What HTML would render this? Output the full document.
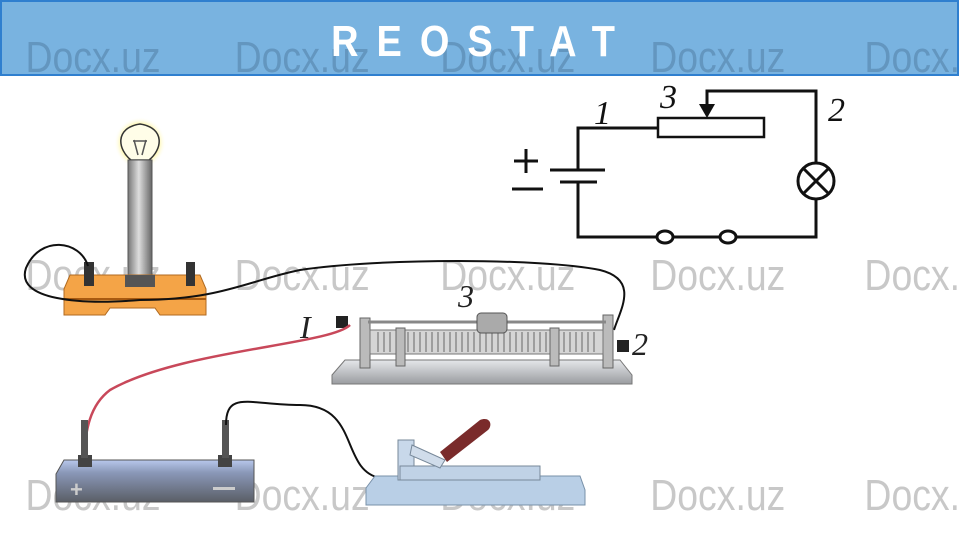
<!DOCTYPE html>
<html><head><meta charset="utf-8"><style>
html,body{margin:0;padding:0;background:#fff;}
body{width:959px;height:553px;overflow:hidden;position:relative;font-family:"Liberation Sans",sans-serif;}
svg{position:absolute;left:0;top:0;}
</style></head><body>
<svg width="959" height="553" viewBox="0 0 959 553" xmlns="http://www.w3.org/2000/svg">
<defs>
<linearGradient id="post" x1="0" x2="1"><stop offset="0" stop-color="#777"/><stop offset=".45" stop-color="#ddd"/><stop offset="1" stop-color="#666"/></linearGradient>
<linearGradient id="bat" x1="0" y1="0" x2="0" y2="1"><stop offset="0" stop-color="#b8c8ec"/><stop offset=".3" stop-color="#8a98b8"/><stop offset="1" stop-color="#5a5e66"/></linearGradient>
<linearGradient id="base" x1="0" y1="0" x2="0" y2="1"><stop offset="0" stop-color="#e5e7ea"/><stop offset="1" stop-color="#9a9ca0"/></linearGradient>
<radialGradient id="glow"><stop offset="0" stop-color="#fffbd0"/><stop offset=".7" stop-color="#fff6a0"/><stop offset="1" stop-color="#fff" stop-opacity="0"/></radialGradient>
</defs>
<rect x="1" y="1" width="957" height="74" fill="#79b3e0" stroke="#2f7fcf" stroke-width="2"/>
<g font-size="44" fill="#5e8fb8" opacity=".8" font-family="Liberation Sans,sans-serif" transform="scale(0.85,1)">
<text x="30" y="72">Docx.uz</text><text x="276" y="72">Docx.uz</text><text x="518" y="72">Docx.uz</text><text x="765" y="72">Docx.uz</text><text x="1017" y="72">Docx.uz</text>
</g>
<g transform="translate(482,56) scale(1,1.15)">
<text x="0" y="0" text-anchor="middle" font-size="38" font-weight="bold" fill="#fff" letter-spacing="18">REOSTAT</text>
</g>

<g stroke="#111" stroke-width="3" fill="none">
<polyline points="658,128 578,128 578,170"/>
<polyline points="578,182 578,237 657,237"/>
<line x1="673" y1="237" x2="720" y2="237"/>
<polyline points="736,237 816,237 816,199"/>
<polyline points="816,163 816,91 707,91 707,108"/>
<line x1="550" y1="170" x2="605" y2="170"/>
<line x1="560" y1="182" x2="597" y2="182"/>
<rect x="658" y="118" width="106" height="19" stroke-width="2.5"/>
<circle cx="816" cy="181" r="18"/>
<line x1="803" y1="168" x2="829" y2="194"/><line x1="829" y1="168" x2="803" y2="194"/>
<ellipse cx="665" cy="237" rx="8" ry="6"/><ellipse cx="728" cy="237" rx="8" ry="6"/>
<line x1="514" y1="161" x2="538" y2="161"/><line x1="526" y1="149" x2="526" y2="173"/>
<line x1="512" y1="189" x2="543" y2="189"/>
</g>
<polygon points="699,104 715,104 707,118" fill="#111"/>
<g font-family="Liberation Serif,serif" font-style="italic" font-size="34" fill="#111">
<text x="594" y="124">1</text><text x="660" y="108">3</text><text x="828" y="121">2</text>
</g>

<g font-size="44" fill="#c8c8c8" font-family="Liberation Sans,sans-serif" transform="scale(0.85,1)">
<text x="30" y="290">Docx.uz</text><text x="276" y="290">Docx.uz</text><text x="518" y="290">Docx.uz</text><text x="765" y="290">Docx.uz</text><text x="1017" y="290">Docx.uz</text>
<text x="30" y="510">Docx.uz</text><text x="276" y="510">Docx.uz</text><text x="518" y="510">Docx.uz</text><text x="765" y="510">Docx.uz</text><text x="1017" y="510">Docx.uz</text>
</g>

<circle cx="140" cy="143" r="26" fill="url(#glow)"/>
<path d="M131,160 C118,150 114,128 140,124 C166,128 162,150 149,160 Z" fill="#fffde8" stroke="#333" stroke-width="1.5"/>
<path d="M134,140 L138,155 M146,140 L142,155 M133,141 L147,141" stroke="#555" stroke-width="1.5" fill="none"/>
<rect x="128" y="160" width="24" height="120" fill="url(#post)" stroke="#555"/>
<path d="M64,289 L70,275 L200,275 L206,289 L206,315 L160,315 L155,308 L110,308 L105,315 L64,315 Z" fill="#f4a447" stroke="#b06a20"/>
<rect x="64" y="298" width="142" height="2" fill="#a85a10"/>
<rect x="125" y="275" width="30" height="12" fill="#555"/>
<rect x="84" y="262" width="10" height="24" fill="#333"/><rect x="186" y="262" width="9" height="24" fill="#333"/>
<path d="M88,266 C80,240 40,235 26,268 C15,300 80,305 140,300 C220,300 250,280 300,270 C380,258 540,258 600,270 C640,280 620,310 614,330" stroke="#111" stroke-width="2" fill="none"/>

<path d="M332,375 L345,360 L620,360 L632,375 L632,384 L332,384 Z" fill="url(#base)" stroke="#777"/>
<rect x="360" y="318" width="10" height="50" fill="#bbb" stroke="#666"/>
<rect x="603" y="315" width="10" height="53" fill="#bbb" stroke="#666"/>
<rect x="370" y="330" width="233" height="24" fill="#d5d5d5" stroke="#777"/>
<g stroke="#666" stroke-width="1">
<path d="M378,332 V352 M384,332 V352 M390,332 V352 M396,332 V352 M402,332 V352 M408,332 V352 M414,332 V352 M420,332 V352 M426,332 V352 M432,332 V352 M438,332 V352 M444,332 V352 M450,332 V352 M456,332 V352 M462,332 V352 M468,332 V352 M474,332 V352 M480,332 V352 M486,332 V352 M492,332 V352 M498,332 V352 M504,332 V352 M510,332 V352 M516,332 V352 M522,332 V352 M528,332 V352 M534,332 V352 M540,332 V352 M546,332 V352 M552,332 V352 M558,332 V352 M564,332 V352 M570,332 V352 M576,332 V352 M582,332 V352 M588,332 V352 M594,332 V352"/>
</g>
<line x1="368" y1="322" x2="606" y2="322" stroke="#888" stroke-width="3"/>
<rect x="477" y="313" width="30" height="20" rx="4" fill="#aaa" stroke="#555"/>
<rect x="396" y="328" width="9" height="38" fill="#bbb" stroke="#666"/>
<rect x="550" y="328" width="9" height="38" fill="#bbb" stroke="#666"/>
<rect x="336" y="316" width="12" height="12" fill="#222"/>
<rect x="617" y="340" width="12" height="12" fill="#222"/>
<g font-family="Liberation Serif,serif" font-style="italic" font-size="32" fill="#222">
<text x="300" y="338">I</text><text x="458" y="307">3</text><text x="632" y="355">2</text>
</g>
<path d="M350,325 C330,345 180,350 110,390 C90,405 85,430 84,460" stroke="#c8485a" stroke-width="2.5" fill="none"/>

<path d="M56,474 L64,460 L254,460 L254,502 L56,502 Z" fill="url(#bat)" stroke="#555"/>
<rect x="78" y="455" width="14" height="12" fill="#444"/><rect x="218" y="455" width="14" height="12" fill="#444"/>
<rect x="81" y="420" width="7" height="38" fill="#555"/><rect x="222" y="420" width="7" height="38" fill="#555"/>
<text x="70" y="497" font-size="22" fill="#ccc" font-weight="bold">+</text>
<rect x="213" y="487" width="22" height="3" fill="#ccc"/>
<path d="M226,425 C226,390 250,405 300,405 C360,405 340,470 380,478" stroke="#111" stroke-width="2" fill="none"/>

<path d="M366,488 L375,476 L580,476 L585,490 L585,505 L366,505 Z" fill="#b9cfe6" stroke="#7890a8"/>
<rect x="398" y="440" width="16" height="40" fill="#c8d8ea" stroke="#789"/>
<rect x="400" y="466" width="140" height="14" fill="#c0d2e6" stroke="#789"/>
<path d="M412,445 L445,460 L440,468 L410,455 Z" fill="#d0dcea" stroke="#789"/>
<path d="M440,452 L480,420 C490,416 493,425 488,430 L447,462 Z" fill="#7a2b2b"/>
</svg>
</body></html>
